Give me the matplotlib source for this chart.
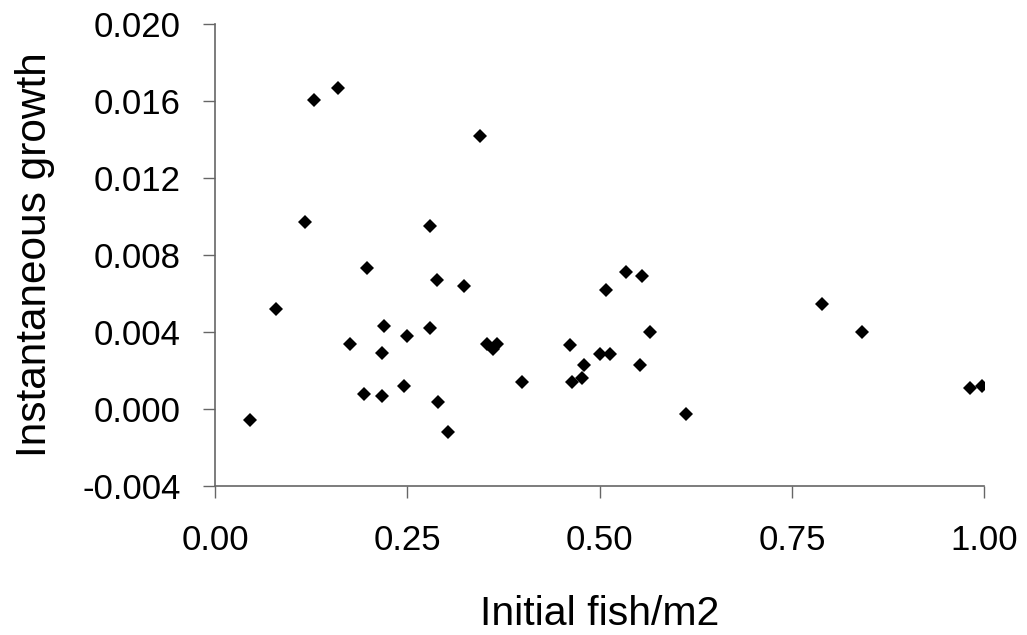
import numpy as np
import matplotlib
matplotlib.use("Agg")
import matplotlib.pyplot as plt

# initial stocking density (fish/m2) vs instantaneous growth
fish_density = [0.046, 0.080, 0.117, 0.129, 0.160, 0.176, 0.194, 0.197,
                0.2175, 0.2175, 0.220, 0.246, 0.249, 0.280, 0.2795, 0.288,
                0.290, 0.303, 0.324, 0.345, 0.353, 0.366, 0.362, 0.3995,
                0.462, 0.4645, 0.4775, 0.480, 0.5005, 0.514, 0.5087, 0.5347,
                0.553, 0.5555, 0.566, 0.6127, 0.7895, 0.8415, 0.9814, 0.9975]
growth = [-0.00057, 0.0052, 0.0097, 0.01605, 0.01666, 0.0034, 0.0008, 0.0073,
          0.0029, 0.00068, 0.0043, 0.0012, 0.0038, 0.0095, 0.0042, 0.0067,
          0.00036, -0.0012, 0.0064, 0.01418, 0.0034, 0.0034, 0.0031, 0.0014,
          0.0033, 0.0014, 0.0016, 0.0023, 0.00286, 0.00286, 0.0062, 0.0071,
          0.0023, 0.0069, 0.0040, -0.00024, 0.00545, 0.0040, 0.0011, 0.0012]

x_ticks = [0.00, 0.25, 0.50, 0.75, 1.00]
y_ticks = [-0.004, 0.000, 0.004, 0.008, 0.012, 0.016, 0.020]

plt.rcParams['font.family'] = ['Liberation Sans', 'DejaVu Sans']

fig = plt.figure(figsize=(10.27, 6.35), dpi=100)
ax = fig.add_axes([0.2093, 0.2346, 0.7491, 0.7276])

ax.plot(fish_density, growth, linestyle='none', marker='D', markersize=7.5,
        color='black', markeredgewidth=0)

ax.set_xlim(0, 1.0)
ax.set_ylim(-0.004, 0.020)
ax.set_xticks(x_ticks)
ax.set_yticks(y_ticks)
ax.set_xticklabels([f"{v:.2f}" for v in x_ticks])
ax.set_yticklabels([f"{v:.3f}" for v in y_ticks])

for side in ['top', 'right']:
    ax.spines[side].set_visible(False)
for side in ['left', 'bottom']:
    ax.spines[side].set_color('#666666')
    ax.spines[side].set_linewidth(1.2)

ax.tick_params(axis='both', direction='out', length=8.5, width=1,
               color='#666666', labelsize=25)
ax.tick_params(axis='y', pad=16)
ax.tick_params(axis='x', pad=19)

ax.set_xlabel('Initial fish/m2', fontsize=29.5, labelpad=27)
ax.set_ylabel('Instantaneous growth', fontsize=30.5, labelpad=20)

fig.savefig('out.png', dpi=100)
